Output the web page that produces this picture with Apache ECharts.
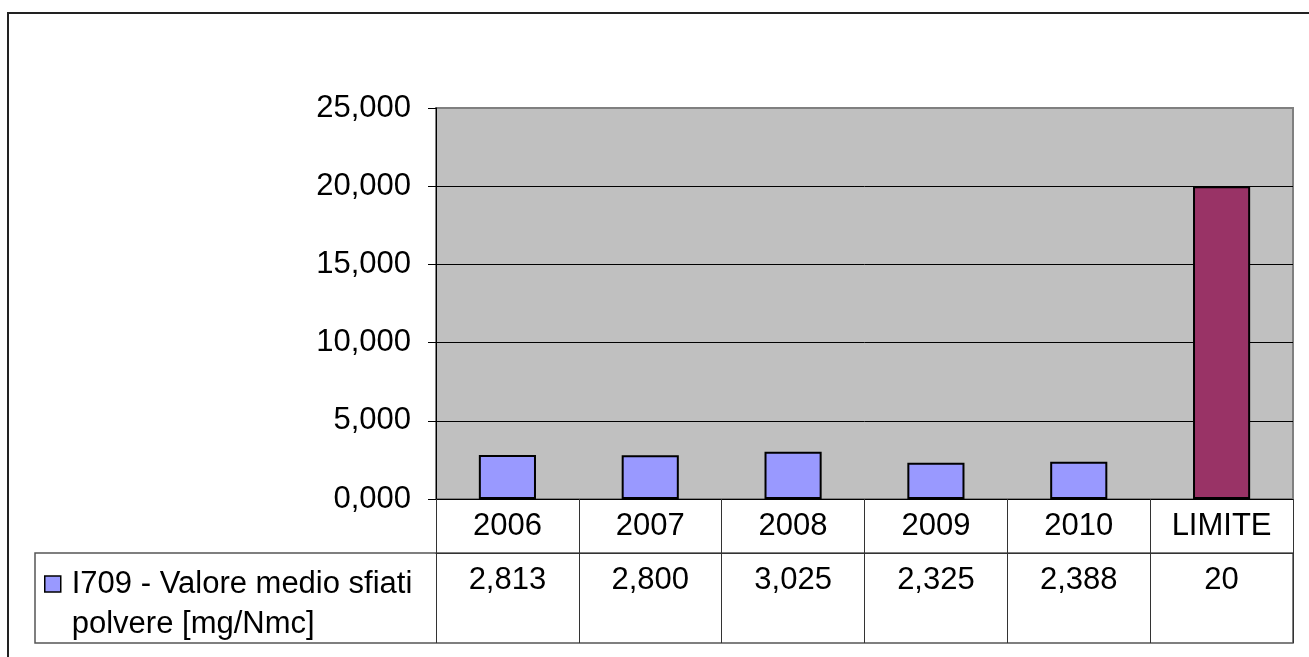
<!DOCTYPE html>
<html>
<head>
<meta charset="utf-8">
<script src="https://cdn.jsdelivr.net/npm/echarts@6/dist/echarts.min.js"></script>
<style>
  html, body { margin: 0; padding: 0; background: #fff; }
  #chart { width: 1309px; height: 657px; }
</style>
</head>
<body>
<div id="chart"></div>
<script>
const categories = ['2006', '2007', '2008', '2009', '2010', 'LIMITE']
const values = [2.813, 2.800, 3.025, 2.325, 2.388, 20]
const seriesName = 'I709 - Valore medio sfiati polvere [mg/Nmc]'
const yTicks = { min: 0, max: 25, interval: 5 }

const FONT = "'Liberation Sans', Arial, sans-serif"
const fmt = v => Number.isInteger(v) ? String(v) : v.toFixed(3).replace('.', ',')

const myChart = echarts.init(document.getElementById('chart'))
myChart.setOption({
  animation: false,
  textStyle: { fontFamily: FONT },
  grid: {
    left: 436,
    right: 16,
    top: 108,
    bottom: 158,
    show: true,
    backgroundColor: '#C0C0C0',
    borderColor: '#808080',
    borderWidth: 2
  },
  legend: {
    left: 44,
    top: 524,
    padding: 0,
    itemWidth: 16,
    itemHeight: 16,
    itemGap: 0,
    icon: 'rect',
    // blank first line keeps the icon level with the first text line
    formatter: name => '\n' + name.replace(' polvere', '\npolvere'),
    textStyle: {
      fontFamily: FONT,
      fontSize: 31,
      color: '#000',
      lineHeight: 40,
      padding: [0, 0, 0, 6]
    },
    data: [{ name: seriesName, itemStyle: { color: '#9999FF', borderColor: '#000', borderWidth: 1.5 } }]
  },
  xAxis: [
    {
      type: 'category',
      data: categories,
      position: 'bottom',
      axisLine: { lineStyle: { color: '#000', width: 1 } },
      axisTick: { show: true, length: 144, lineStyle: { color: '#333', width: 1 } },
      axisLabel: { fontSize: 31, color: '#000', margin: 12, fontFamily: FONT, interval: 0 },
      splitLine: { show: false }
    },
    {
      type: 'category',
      data: values.map(fmt),
      position: 'bottom',
      offset: 54,
      axisLine: { lineStyle: { color: '#333', width: 1 } },
      axisTick: { show: false },
      axisLabel: { fontSize: 31, color: '#000', margin: 12, fontFamily: FONT, interval: 0 },
      splitLine: { show: false }
    }
  ],
  yAxis: {
    type: 'value',
    min: yTicks.min,
    max: yTicks.max,
    interval: yTicks.interval,
    axisLine: { show: true, lineStyle: { color: '#000', width: 1 } },
    axisTick: { show: true, length: 8, lineStyle: { color: '#000' } },
    axisLabel: { fontSize: 31, color: '#000', margin: 25, fontFamily: FONT, formatter: v => v.toFixed(3).replace('.', ',') },
    splitLine: { show: true, showMaxLine: false, lineStyle: { color: '#000', width: 1 } }
  },
  series: [
    {
      name: seriesName,
      type: 'bar',
      xAxisIndex: 0,
      barWidth: '40%',
      data: values.map((v, i) => categories[i] === 'LIMITE'
        ? { value: v, itemStyle: { color: '#993366' } }
        : v),
      itemStyle: { color: '#9999FF', borderColor: '#000', borderWidth: 2 }
    }
  ],
  graphic: [
    {
      type: 'rect',
      shape: { x: 8, y: 13, width: 1400, height: 700 },
      style: { fill: 'none', stroke: '#222', lineWidth: 2 },
      silent: true
    },
    {
      type: 'rect',
      shape: { x: 35, y: 553, width: 1258, height: 90 },
      style: { fill: 'none', stroke: '#555', lineWidth: 1.5 },
      silent: true,
      z: -1
    }
  ]
})
window.addEventListener('resize', () => {
  myChart.resize()
})
</script>
</body>
</html>
